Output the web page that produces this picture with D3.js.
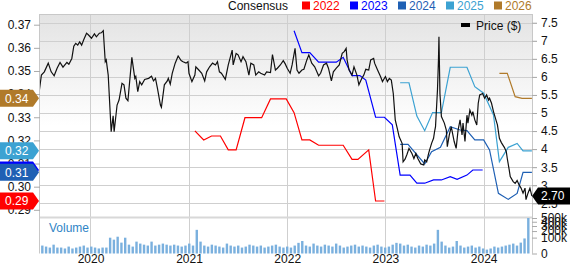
<!DOCTYPE html>
<html>
<head>
<meta charset="utf-8">
<script src="https://cdn.jsdelivr.net/npm/d3@7"></script>
<style>
  body { margin: 0; background: #fff; }
  svg { display: block; font-family: "Liberation Sans", Arial, sans-serif; }
</style>
</head>
<body>
<svg id="chart" width="570" height="265"></svg>
<script>
// price ($), [decimal year, close]
var priceData = [
  [2019.48,5.64],[2019.50,6.05],[2019.53,6.14],[2019.57,6.38],[2019.60,6.14],[2019.63,6.03],[2019.66,6.24],
  [2019.69,6.40],[2019.72,6.27],[2019.76,6.40],[2019.78,6.35],[2019.81,6.51],[2019.83,6.85],[2019.85,6.93],
  [2019.87,6.88],[2019.89,6.97],[2019.91,6.88],[2019.93,7.02],[2019.96,7.21],[2019.98,7.16],[2020.01,7.07],
  [2020.04,7.19],[2020.06,7.11],[2020.09,7.21],[2020.11,7.22],[2020.13,7.28],[2020.15,6.42],[2020.16,6.47],
  [2020.18,6.05],[2020.21,4.48],[2020.23,4.92],[2020.24,4.48],[2020.27,5.22],[2020.29,5.36],[2020.32,5.82],
  [2020.34,5.78],[2020.36,5.41],[2020.38,5.34],[2020.42,6.54],[2020.45,5.96],[2020.46,6.01],[2020.48,5.59],
  [2020.50,5.87],[2020.52,5.78],[2020.55,5.93],[2020.59,5.96],[2020.62,6.02],[2020.64,5.89],[2020.66,5.96],
  [2020.68,5.68],[2020.71,5.22],[2020.72,5.16],[2020.75,5.78],[2020.78,5.89],[2020.79,5.96],[2020.81,5.80],
  [2020.83,6.10],[2020.86,6.38],[2020.89,6.58],[2020.92,6.45],[2020.94,6.42],[2020.97,6.38],[2020.99,6.42],
  [2021.00,6.10],[2021.03,5.87],[2021.06,6.05],[2021.07,6.28],[2021.10,6.19],[2021.13,6.10],[2021.16,5.89],
  [2021.18,6.14],[2021.21,6.28],[2021.24,6.38],[2021.27,6.33],[2021.29,6.42],[2021.31,6.14],[2021.33,6.10],
  [2021.37,5.93],[2021.40,6.33],[2021.44,6.74],[2021.45,6.33],[2021.48,6.65],[2021.50,6.61],[2021.53,6.42],
  [2021.55,6.56],[2021.58,6.42],[2021.61,6.05],[2021.63,6.38],[2021.66,6.33],[2021.68,6.05],[2021.71,6.14],
  [2021.73,6.10],[2021.77,6.05],[2021.79,6.14],[2021.83,6.12],[2021.85,6.62],[2021.88,6.19],[2021.90,6.24],
  [2021.93,6.33],[2021.96,6.45],[2021.98,6.36],[2022.00,6.24],[2022.03,6.10],[2022.05,6.33],[2022.08,6.79],
  [2022.10,6.19],[2022.12,6.10],[2022.15,6.19],[2022.17,6.21],[2022.20,6.47],[2022.22,6.61],[2022.25,6.38],
  [2022.28,6.28],[2022.32,6.03],[2022.34,6.10],[2022.37,6.33],[2022.40,6.38],[2022.42,6.24],[2022.45,5.89],
  [2022.47,6.14],[2022.50,6.24],[2022.53,6.33],[2022.56,6.65],[2022.58,6.70],[2022.60,6.79],[2022.61,6.47],
  [2022.63,6.19],[2022.66,6.05],[2022.68,6.28],[2022.71,6.05],[2022.73,5.78],[2022.76,5.96],[2022.78,6.05],
  [2022.80,6.21],[2022.83,6.19],[2022.85,6.47],[2022.88,6.51],[2022.89,6.38],[2022.92,6.19],[2022.95,6.01],
  [2022.97,5.87],[2023.00,6.01],[2023.02,5.87],[2023.04,5.96],[2023.06,5.91],[2023.08,5.54],[2023.10,4.81],
  [2023.12,4.58],[2023.14,4.34],[2023.17,4.16],[2023.18,3.65],[2023.20,3.72],[2023.22,3.86],[2023.24,4.02],
  [2023.27,3.88],[2023.29,3.74],[2023.31,3.88],[2023.33,3.74],[2023.36,3.59],[2023.39,3.56],[2023.40,3.70],
  [2023.42,3.65],[2023.44,3.88],[2023.45,3.98],[2023.47,4.16],[2023.49,4.30],[2023.50,4.48],[2023.51,4.62],
  [2023.53,5.64],[2023.54,6.47],[2023.545,7.11],[2023.555,5.54],[2023.57,4.90],[2023.60,4.72],[2023.62,4.53],
  [2023.63,4.07],[2023.65,4.39],[2023.67,4.62],[2023.70,4.21],[2023.72,4.02],[2023.74,4.53],[2023.76,4.81],
  [2023.78,4.39],[2023.79,4.72],[2023.81,4.21],[2023.83,4.94],[2023.84,4.72],[2023.86,5.08],[2023.88,4.94],
  [2023.89,5.04],[2023.91,4.81],[2023.93,4.67],[2023.945,5.27],[2023.96,5.50],[2023.99,5.54],[2024.01,5.41],
  [2024.03,5.50],[2024.05,5.36],[2024.06,5.41],[2024.08,5.27],[2024.10,5.04],[2024.13,4.76],[2024.14,4.67],
  [2024.16,4.30],[2024.18,4.18],[2024.21,4.05],[2024.23,3.93],[2024.24,3.74],[2024.26,3.42],[2024.27,3.24],
  [2024.30,3.10],[2024.32,3.05],[2024.34,3.13],[2024.36,3.01],[2024.38,2.92],[2024.40,2.78],[2024.42,2.92],
  [2024.43,2.60],[2024.45,2.78],[2024.47,2.92],[2024.49,2.70]
];

// consensus EPS estimates per fiscal year, [decimal year, eps]
var cons2022 = [[2021.06,0.3241],[2021.15,0.3202],[2021.23,0.3219],[2021.32,0.3219],[2021.40,0.3159],
  [2021.48,0.3159],[2021.57,0.3298],[2021.74,0.3298],[2021.83,0.3379],[2021.99,0.3379],[2022.07,0.3320],
  [2022.15,0.3202],[2022.23,0.3202],[2022.32,0.3179],[2022.57,0.3179],[2022.66,0.3118],[2022.72,0.3118],
  [2022.83,0.3159],[2022.90,0.2938],[2022.99,0.2938]];
var cons2023 = [[2022.07,0.3674],[2022.15,0.3579],[2022.23,0.3579],[2022.32,0.3538],[2022.50,0.3538],
  [2022.57,0.3559],[2022.66,0.3480],[2022.74,0.3480],[2022.80,0.3461],[2022.90,0.3300],[2022.99,0.3300],
  [2023.07,0.3267],[2023.15,0.3050],[2023.25,0.3050],[2023.32,0.3015],[2023.40,0.3015],[2023.49,0.3029],
  [2023.57,0.3029],[2023.66,0.3043],[2023.73,0.3032],[2023.83,0.3050],[2023.89,0.3072],[2023.99,0.3072]];
var cons2024 = [[2023.15,0.3183],[2023.23,0.3183],[2023.40,0.3098],[2023.47,0.3151],[2023.56,0.3170],
  [2023.66,0.3259],[2023.76,0.3245],[2023.83,0.3242],[2023.91,0.3202],[2024.00,0.3202],[2024.06,0.3159],
  [2024.15,0.2971],[2024.25,0.2945],[2024.34,0.2971],[2024.40,0.3062],[2024.49,0.3062]];
var cons2025 = [[2023.15,0.3449],[2023.24,0.3449],[2023.32,0.3305],[2023.40,0.3242],[2023.48,0.3320],
  [2023.57,0.3320],[2023.66,0.3516],[2023.83,0.3516],[2023.91,0.3432],[2024.00,0.3404],[2024.10,0.3310],
  [2024.16,0.3108],[2024.25,0.3170],[2024.34,0.3187],[2024.40,0.3155],[2024.49,0.3155]];
var cons2026 = [[2024.16,0.3490],[2024.24,0.3490],[2024.32,0.3389],[2024.39,0.3382],[2024.49,0.3382]];

// volume, one bar every two weeks starting early July 2019
var volumeStart = new Date(2019, 6, 6);
var volume = [
  25000,19000,14000,31000,14000,14000,10000,19000,10000,14000,19000,25000,14000,19000,
  14000,10000,14000,14000,
  99000,76000,112000,47000,99000,31000,
  19000,56000,39000,31000,25000,56000,25000,31000,
  39000,31000,25000,31000,25000,19000,25000,
  39000,25000,222000,56000,
  25000,19000,31000,25000,19000,14000,39000,25000,19000,25000,14000,19000,31000,25000,19000,25000,14000,19000,25000,31000,19000,14000,
  19000,14000,25000,45000,62000,25000,19000,39000,25000,19000,31000,25000,19000,39000,25000,14000,19000,25000,31000,19000,25000,19000,14000,25000,31000,19000,
  14000,19000,31000,45000,39000,25000,31000,19000,14000,25000,19000,31000,25000,39000,222000,56000,25000,14000,19000,62000,25000,14000,19000,25000,14000,19000,
  10000,6000,10000,19000,14000,19000,25000,31000,39000,25000,47000,90000,500000
];

var series = [
  { name: "2022", color: "#ff0000", data: cons2022 },
  { name: "2023", color: "#0000ff", data: cons2023 },
  { name: "2024", color: "#1f60b4", data: cons2024 },
  { name: "2025", color: "#3ca2d2", data: cons2025 },
  { name: "2026", color: "#b07a2a", data: cons2026 }
];

var priceTicks = [2.5, 3, 3.5, 4, 4.5, 5, 5.5, 6, 6.5, 7, 7.5];
var epsTicks = [0.29, 0.30, 0.31, 0.32, 0.33, 0.34, 0.35, 0.36, 0.37];
var volTicks = [0, 100000, 200000, 300000, 400000, 500000];

var svg = d3.select("#chart");
var L = 40, R = 532, T = 14, B = 217.5, VT = 218, VB = 253.5;

// decimal year -> Date
function yr(v) {
  var y = Math.floor(v);
  var s = new Date(y, 0, 1), e = new Date(y + 1, 0, 1);
  return new Date(+s + (v - y) * (e - s));
}

var x = d3.scaleTime().domain([yr(2019.486), yr(2024.491)]).range([L, R]);
var yP = d3.scaleLinear().domain([2.107, 7.741]).range([B, T]);
var yE = d3.scaleLinear().domain([0.28668, 0.37462]).range([B, T]);
var yV = d3.scaleSqrt().domain([0, 500000]).range([VB, VT]);

var defs = svg.append("defs");
var grad = defs.append("linearGradient").attr("id", "bg").attr("x1", 0).attr("y1", 0).attr("x2", 0).attr("y2", 1);
grad.append("stop").attr("offset", "0%").attr("stop-color", "#e3e3e3");
grad.append("stop").attr("offset", "55%").attr("stop-color", "#ffffff");
defs.append("clipPath").attr("id", "clip").append("rect")
  .attr("x", L).attr("y", T).attr("width", R - L).attr("height", B - T);

svg.append("rect").attr("x", L).attr("y", T).attr("width", R - L).attr("height", B - T).attr("fill", "url(#bg)");

// horizontal grid (price scale)
svg.append("g").selectAll("line").data(priceTicks).enter().append("line")
  .attr("x1", L).attr("x2", R + 5)
  .attr("y1", function(d) { return Math.round(yP(d)) + 0.5; })
  .attr("y2", function(d) { return Math.round(yP(d)) + 0.5; })
  .attr("stroke", "#cfcfcf");

// year grid
var years = x.ticks(d3.timeYear.every(1));
svg.append("g").selectAll("line").data(years).enter().append("line")
  .attr("x1", function(d) { return Math.round(x(d)) + 0.5; })
  .attr("x2", function(d) { return Math.round(x(d)) + 0.5; })
  .attr("y1", T).attr("y2", VB)
  .attr("stroke", "#cfcfcf");

// frame
svg.append("line").attr("x1", L - 0.5).attr("x2", L - 0.5).attr("y1", T).attr("y2", VB).attr("stroke", "#c8c8c8");
svg.append("line").attr("x1", R + 0.5).attr("x2", R + 0.5).attr("y1", T).attr("y2", VB).attr("stroke", "#c8c8c8");
svg.append("line").attr("x1", L).attr("x2", R).attr("y1", T + 0.5).attr("y2", T + 0.5).attr("stroke", "#c8c8c8");
svg.append("line").attr("x1", L).attr("x2", R).attr("y1", 217.5).attr("y2", 217.5).attr("stroke", "#d8d8d8").attr("stroke-width", 2);

// volume bars
svg.append("g").selectAll("rect").data(volume).enter().append("rect")
  .attr("x", function(d, i) { return x(d3.timeDay.offset(volumeStart, i * 14)) - 1.2; })
  .attr("width", 2.4)
  .attr("y", function(d) { return yV(d); })
  .attr("height", function(d) { return VB - yV(d); })
  .attr("fill", "#7ab0de");

svg.append("text").attr("x", 49).attr("y", 232).attr("font-size", 12).attr("fill", "#2f84c6").text("Volume");

// lines
var plot = svg.append("g").attr("clip-path", "url(#clip)");
var lineE = d3.line().x(function(d) { return x(yr(d[0])); }).y(function(d) { return yE(d[1]); });
var lineP = d3.line().x(function(d) { return x(yr(d[0])); }).y(function(d) { return yP(d[1]); });

series.forEach(function(s) {
  plot.append("path").datum(s.data).attr("d", lineE)
    .attr("fill", "none").attr("stroke", s.color).attr("stroke-width", 1.2);
});
plot.append("path").datum(priceData).attr("d", lineP)
  .attr("fill", "none").attr("stroke", "#111").attr("stroke-width", 1.2);

// left axis (EPS)
var axL = svg.append("g").attr("transform", "translate(" + L + ",0)")
  .call(d3.axisLeft(yE).tickValues(epsTicks).tickSize(6).tickPadding(3).tickFormat(d3.format(".2f")));
axL.select(".domain").remove();
axL.selectAll("line").attr("stroke", "#aaa");
axL.selectAll("text").attr("font-size", 12).attr("font-family", null).attr("fill", "#111");

// right axis (price)
var axR = svg.append("g").attr("transform", "translate(" + R + ",0)")
  .call(d3.axisRight(yP).tickValues(priceTicks).tickSize(5).tickPadding(4).tickFormat(d3.format("")));
axR.select(".domain").remove();
axR.selectAll("line").attr("stroke", "#aaa");
axR.selectAll("text").attr("font-size", 12).attr("font-family", null).attr("fill", "#111");

// right axis (volume)
var axV = svg.append("g").attr("transform", "translate(" + R + ",0)")
  .call(d3.axisRight(yV).tickValues(volTicks).tickSize(5).tickPadding(4)
    .tickFormat(function(d) { return d === 0 ? "0" : (d / 1000) + "k"; }));
axV.select(".domain").remove();
axV.selectAll("line").attr("stroke", "#aaa");
axV.selectAll("text").attr("font-size", 12).attr("font-family", null).attr("fill", "#111");

// x axis
var axX = svg.append("g").attr("transform", "translate(0," + VB + ")")
  .call(d3.axisBottom(x).ticks(d3.timeYear.every(1)).tickFormat(d3.timeFormat("%Y")).tickSize(0).tickPadding(1));
axX.select(".domain").remove();
axX.selectAll("text").attr("font-size", 12).attr("font-family", null).attr("fill", "#111");

// left value badges
var fmt2 = d3.format(".2f");
series.forEach(function(s) {
  var v = s.data[s.data.length - 1][1];
  var cy = yE(v);
  var g = svg.append("g").attr("transform", "translate(0," + cy + ")");
  g.append("path").attr("d", "M0,-8.5H33L39,0L33,8.5H0Z").attr("fill", s.color);
  g.append("text").attr("x", 5).attr("dy", "0.36em").attr("font-size", 12).attr("fill", "#fff").text(fmt2(v));
});

// price badge
var lastP = priceData[priceData.length - 1][1];
var pg = svg.append("g").attr("transform", "translate(" + R + "," + yP(lastP) + ")");
pg.append("path").attr("d", "M0,0L6,-8.5H40V8.5H6Z").attr("fill", "#000");
pg.append("text").attr("x", 9).attr("dy", "0.36em").attr("font-size", 12).attr("fill", "#fff").text(fmt2(lastP));

// legend
svg.append("text").attr("x", 228).attr("y", 10).attr("font-size", 12).attr("fill", "#111").text("Consensus");
series.forEach(function(s, i) {
  var lx = 302 + i * 48;
  svg.append("rect").attr("x", lx).attr("y", 1.5).attr("width", 8).attr("height", 8).attr("fill", s.color);
  svg.append("text").attr("x", lx + 11).attr("y", 10).attr("font-size", 12).attr("fill", s.color).text(s.name);
});
svg.append("rect").attr("x", 461).attr("y", 23).attr("width", 9).attr("height", 4).attr("fill", "#000");
svg.append("text").attr("x", 476).attr("y", 29.5).attr("font-size", 12).attr("fill", "#111").text("Price ($)");
</script>
</body>
</html>
